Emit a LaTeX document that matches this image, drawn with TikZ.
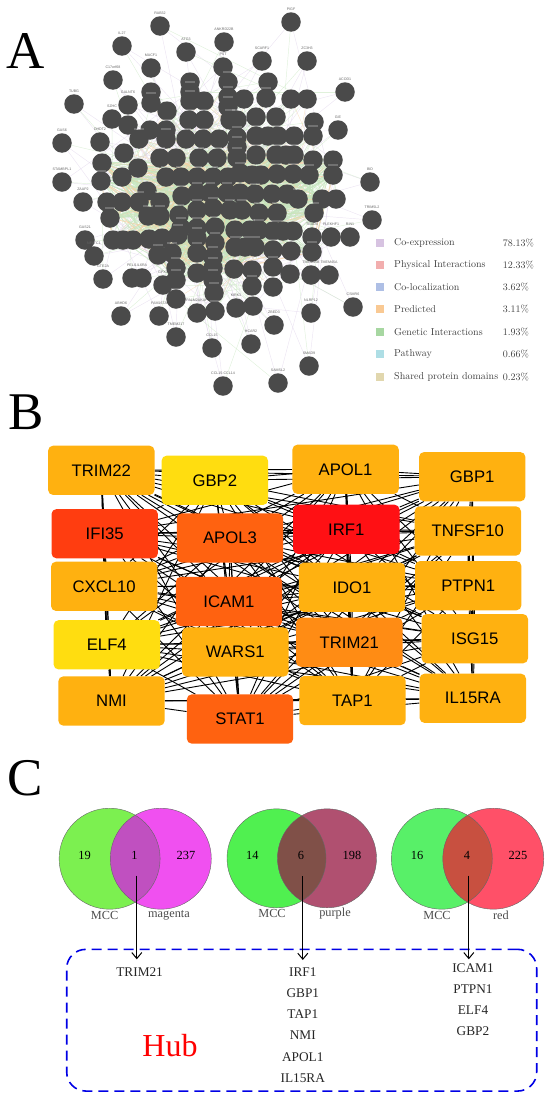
\documentclass[tikz,border=0pt]{standalone}
\usepackage{fontspec}
\usepackage{xcolor}
\usetikzlibrary{arrows.meta}
\usetikzlibrary{backgrounds}
\newfontfamily\timesfont{Liberation Serif}
\newfontfamily\arialfont{Liberation Sans}
\pgfdeclarelayer{foreground}
\pgfsetlayers{background,main,foreground}
\definecolor{geneedgea}{HTML}{DDD0E8}
\definecolor{geneedgeb}{HTML}{C6E6BE}
\definecolor{geneedgec}{HTML}{F6D2A4}
\definecolor{hubamber}{HTML}{FFB110}
\definecolor{hubyellow}{HTML}{FFDD10}
\definecolor{hubtomato}{HTML}{FF3D10}
\definecolor{huborange}{HTML}{FF6210}
\definecolor{hubdeep}{HTML}{FF8C14}
\definecolor{hubred}{HTML}{FF1014}
\definecolor{vennlimeA}{HTML}{7CF050}
\definecolor{vennmagenta}{HTML}{F050F0}
\definecolor{vennmixA}{HTML}{C050C0}
\definecolor{vennlimeB}{HTML}{50F050}
\definecolor{vennpurple}{HTML}{B05070}
\definecolor{vennmixB}{HTML}{805048}
\definecolor{vennlimeC}{HTML}{58F068}
\definecolor{vennred}{HTML}{FF5068}
\definecolor{vennmixC}{HTML}{C85040}
\tikzset{
  panel letter/.style = {font=\timesfont\fontsize{53}{53}\selectfont, inner sep=0pt},
  gene node/.style = {circle, fill=black!71, minimum size=19.5pt, inner sep=0pt},
  gene label/.style = {font=\arialfont\fontsize{3.6}{4}\selectfont, text=black!60, inner sep=0pt, yshift=1.4pt},
  gene edge/.style = {line width=0.45pt, opacity=0.55},
  legend key/.style = {minimum size=8pt, inner sep=0pt, opacity=0.85},
  legend text/.style = {font=\fontsize{10}{10}\selectfont, text=black!75, inner sep=0pt, anchor=west},
  hub node/.style = {rounded corners=5pt, minimum width=106.4pt, minimum height=49.3pt, inner sep=0pt,
    font=\arialfont\fontsize{16.7}{17}\selectfont},
  hub edge/.style = {line width=0.9pt, black},
  venn text/.style = {font=\timesfont\fontsize{12.4}{13}\selectfont, inner sep=0pt},
  venn name/.style = {font=\timesfont\fontsize{12.3}{13}\selectfont, text=black!70, inner sep=0pt},
  hit gene/.style = {font=\timesfont\fontsize{13.3}{14}\selectfont, text=black!85, inner sep=0pt},
  >={Straight Barb[length=6pt,width=10pt]}
}
% left centre, right centre, height, radius, left/right/both colours
\newcommand{\drawvenn}[7]{
  \fill[#5] (#1,#3) circle[radius=#4];
  \fill[#6] (#2,#3) circle[radius=#4];
  \begin{scope}
    \clip (#1,#3) circle[radius=#4];
    \fill[#7] (#2,#3) circle[radius=#4];
  \end{scope}
  \draw[black!60, line width=0.4pt] (#1,#3) circle[radius=#4];
  \draw[black!60, line width=0.4pt] (#2,#3) circle[radius=#4];
}
\begin{document}
\begin{tikzpicture}[x=1pt,y=-1pt]
  \useasboundingbox (0,0) rectangle (550,1100);

  % Panel A
  \node[panel letter] (letterA) at (26,51) {A};

  \foreach \px/\py/\gname [count=\i] in {
    160/26/RAB32, 291/22/PIGF, 122/46/IL27, 224/42/ANKRD22B, 186/52/ATG3,
    151/68/MACF1, 223/67/PST, 262/61/SCARF1, 307/61/ZC3H3, 113/80/C17orf68,
    345/92/ACOD1, 74/104/TUBG, 128/105/GALNT6, 112/119/SZHC, 338/130/GIE,
    62/143/GAS6, 100/142/DHDT2, 62/182/STAMBPL1, 83/202/ZAAP2, 370/182/BID,
    372/220/TRIM5L2, 85/240/GAS21, 94/256/NFATC1, 103/279/GTE2A, 132/278/PELI1,
    142/278/IL6RA, 163/285/GPX3, 121/316/ABHD6, 159/316/FAM167A, 197/313/PALM2AKAP,
    236/308/KIRK1, 311/313/NLRP12, 353/307/CSMR6, 274/325/ZBED3, 176/337/TMEM217,
    212/348/CCL15, 251/344/HCAR2, 309/366/SMAD9, 223/386/CCL15-CCL14, 278/383/SAMSL2,
    312/237/TEAD4, 331/237/PLEKHF1, 350/237/RIN1, 311/275/TMEM45B, 329/275/TMEM45A} {
    \node[gene node, label={[gene label]above:\gname}] (g\i) at (\px,\py) {};
  }

  \foreach \px/\py [count=\i] in {
    190/82, 228/82, 268/82, 151/92, 190/92, 151/103, 167/111, 190/101, 204/101, 228/97,
    244/99, 266/98, 291/99, 307/99, 228/107, 128/125, 189/120, 204/120, 230/120, 237/120,
    256/117, 276/117, 314/122, 150/130, 166/130, 139/139, 166/139, 186/139, 203/139, 219/139,
    237/137, 256/136, 268/136, 278/136, 294/136, 313/136, 237/147, 124/153, 160/158, 176/158,
    199/158, 217/158, 237/158, 256/155, 276/155, 286/155, 294/155, 313/160, 333/160, 102/163,
    138/168, 101/181, 122/177, 166/177, 181/177, 197/177, 213/177, 228/177, 240/173, 252/175,
    261/175, 277/174, 293/174, 309/175, 333/175, 147/191, 107/202, 122/202, 139/202, 160/202,
    182/196, 197/193, 210/193, 227/193, 240/193, 255/194, 272/194, 287/194, 298/199, 322/199,
    336/199, 110/218, 148/216, 160/216, 179/215, 197/210, 213/208, 230/210, 242/210, 259/213,
    277/213, 314/213, 181/228, 113/240, 123/240, 133/240, 149/239, 162/238, 178/235, 197/228,
    197/238, 215/227, 235/230, 250/230, 259/230, 273/231, 283/231, 293/231, 215/243, 235/247,
    245/247, 255/247, 273/250, 291/251, 312/252, 158/255, 172/253, 197/253, 213/257, 176/268,
    176/280, 197/273, 213/268, 213/280, 234/269, 252/270, 273/267, 290/274, 252/286, 273/287,
    214/293, 176/299, 215/311, 253/306} {
    \node[gene node] (c\i) at (\px,\py) {};
    \begin{pgfonlayer}{foreground}
      \fill[white, opacity=0.22] ({\px-5},{\py-10.8}) rectangle ({\px+5},{\py-9});
    \end{pgfonlayer}
  }

  \pgfmathsetseed{7}
  \begin{pgfonlayer}{background}
    \foreach \i in {1,...,45} {
      \foreach \ecol in {geneedgea,geneedgea,geneedgeb} {
        \pgfmathtruncatemacro{\j}{random(1,134)}
        \draw[gene edge, \ecol] (g\i) -- (c\j);
      }
    }
    \foreach \i in {1,...,134} {
      \foreach \ecol in {geneedgeb,geneedgea,geneedgeb,geneedgec,geneedgeb,geneedgea} {
        \pgfmathtruncatemacro{\j}{random(25,125)}
        \draw[gene edge, \ecol] (c\i) -- (c\j);
      }
    }
    % denser middle
    \foreach \i in {40,...,125} {
      \foreach \ecol in {geneedgeb,geneedgeb,geneedgec,geneedgeb,geneedgeb,geneedgeb,geneedgec,geneedgeb} {
        \pgfmathtruncatemacro{\j}{random(40,125)}
        \draw[line width=0.9pt, \ecol, opacity=0.7] (c\i) -- (c\j);
      }
    }
  \end{pgfonlayer}

  % Legend
  \foreach \ycol/\ytext/\yval/\keycol [count=\i] in {
    242.7/Co-expression/78.13\%/D0B8DC,
    265/Physical Interactions/12.33\%/F0A0A0,
    287/Co-localization/3.62\%/A0B4E0,
    309.3/Predicted/3.11\%/F8C080,
    331.7/Genetic Interactions/1.93\%/98D090,
    354.3/Pathway/0.66\%/A0D8E0,
    376.7/Shared protein domains/0.23\%/DCD0A0} {
    \definecolor{keycolor}{HTML}{\keycol}
    \node[legend key, fill=keycolor] (key\i) at (380,\ycol) {};
    \node[legend text] (keytext\i) at (394,\ycol) {\ytext};
    \node[legend text] (keyval\i) at (502.7,\ycol) {\yval};
  }

  % Panel B
  \node[panel letter] (letterB) at (26,412) {B};

  \node[hub node, fill=hubamber] (TRIM22) at (101.3,470.3) {TRIM22};
  \node[hub node, fill=hubyellow] (GBP2) at (214.8,480.3) {GBP2};
  \node[hub node, fill=hubamber] (APOL1) at (345.6,469.3) {APOL1};
  \node[hub node, fill=hubamber] (GBP1) at (472.2,476.7) {GBP1};
  \node[hub node, fill=hubtomato] (IFI35) at (104.7,533.7) {IFI35};
  \node[hub node, fill=huborange] (APOL3) at (230,538) {APOL3};
  \node[hub node, fill=hubred] (IRF1) at (346.3,529.3) {IRF1};
  \node[hub node, fill=hubamber] (TNFSF10) at (467.8,531) {TNFSF10};
  \node[hub node, fill=hubamber] (CXCL10) at (104.2,586.3) {CXCL10};
  \node[hub node, fill=huborange] (ICAM1) at (229,601.5) {ICAM1};
  \node[hub node, fill=hubamber] (IDO1) at (352,587.3) {IDO1};
  \node[hub node, fill=hubamber] (PTPN1) at (468.2,585.7) {PTPN1};
  \node[hub node, fill=hubyellow] (ELF4) at (106.8,644.8) {ELF4};
  \node[hub node, fill=hubamber] (WARS1) at (235.3,652) {WARS1};
  \node[hub node, fill=hubdeep] (TRIM21) at (349.3,642.3) {TRIM21};
  \node[hub node, fill=hubamber] (ISG15) at (474.8,638.7) {ISG15};
  \node[hub node, fill=hubamber] (NMI) at (111.5,701) {NMI};
  \node[hub node, fill=huborange] (STAT1) at (240,719) {STAT1};
  \node[hub node, fill=hubamber] (TAP1) at (352.5,700.5) {TAP1};
  \node[hub node, fill=hubamber] (IL15RA) at (472.8,698.3) {IL15RA};

  \begin{pgfonlayer}{background}
    \foreach \a [count=\i] in {TRIM22,GBP2,APOL1,GBP1,IFI35,APOL3,IRF1,TNFSF10,CXCL10,ICAM1,
                               IDO1,PTPN1,ELF4,WARS1,TRIM21,ISG15,NMI,STAT1,TAP1,IL15RA} {
      \foreach \b [count=\j] in {TRIM22,GBP2,APOL1,GBP1,IFI35,APOL3,IRF1,TNFSF10,CXCL10,ICAM1,
                                 IDO1,PTPN1,ELF4,WARS1,TRIM21,ISG15,NMI,STAT1,TAP1,IL15RA} {
        \ifnum\i<\j
          \draw[hub edge] (\a) -- (\b);
        \fi
      }
    }
  \end{pgfonlayer}

  % Panel C
  \node[panel letter] (letterC) at (25,778) {C};

  \drawvenn{109.6}{160.8}{858.7}{50.5}{vennlimeA}{vennmagenta}{vennmixA}
  \drawvenn{276.5}{327}{858.3}{49.5}{vennlimeB}{vennpurple}{vennmixB}
  \drawvenn{441.8}{493.3}{858.7}{50.5}{vennlimeC}{vennred}{vennmixC}

  \foreach \vx/\vy/\vtext [count=\i] in {
    84.6/855/19, 134.4/855.7/1, 186/855/237, 252.3/855/14, 301/855/6,
    352/855/198, 417/855.7/16, 467/855.7/4, 518/855.7/225} {
    \node[venn text] (count\i) at (\vx,\vy) {\vtext};
  }
  \node[venn name] (mccA) at (104.6,915) {MCC};
  \node[venn name] (magenta) at (169,915) {magenta};
  \node[venn name] (mccB) at (272,913.7) {MCC};
  \node[venn name] (purple) at (335,913.7) {purple};
  \node[venn name] (mccC) at (437,915.3) {MCC};
  \node[venn name] (red) at (501,915.3) {red};

  \node[draw=blue!90!black, line width=1.6pt, dash pattern=on 10pt off 6pt, rounded corners=19pt,
    minimum width=470pt, minimum height=141.7pt, inner sep=0pt] (hubbox) at (301.7,1020.2) {};

  \coordinate (fromA) at (136.8,875.7);
  \coordinate (toA) at (136.8,959.3);
  \coordinate (fromB) at (302.8,876.3);
  \coordinate (toB) at (302.8,960);
  \coordinate (fromC) at (468.8,875.7);
  \coordinate (toC) at (468.8,959.3);
  \draw[->, line width=1pt] (fromA) -- (toA);
  \draw[->, line width=1pt] (fromB) -- (toB);
  \draw[->, line width=1pt] (fromC) -- (toC);

  \node[hit gene] (hitTRIM21) at (139.6,971.7) {TRIM21};
  \foreach \gy/\gtext [count=\i] in {972.3/IRF1,993.3/GBP1,1014.3/TAP1,1035.3/NMI,1056.7/APOL1,1078.3/IL15RA} {
    \node[hit gene] (hitB\i) at (302.8,\gy) {\gtext};
  }
  \foreach \gy/\gtext [count=\i] in {968.3/ICAM1,989.3/PTPN1,1010.3/ELF4,1031.3/GBP2} {
    \node[hit gene] (hitC\i) at (473,\gy) {\gtext};
  }
  \node[font=\timesfont\fontsize{32}{32}\selectfont, text=red, inner sep=0pt] (hublabel) at (170,1046) {Hub};
\end{tikzpicture}
\end{document}
